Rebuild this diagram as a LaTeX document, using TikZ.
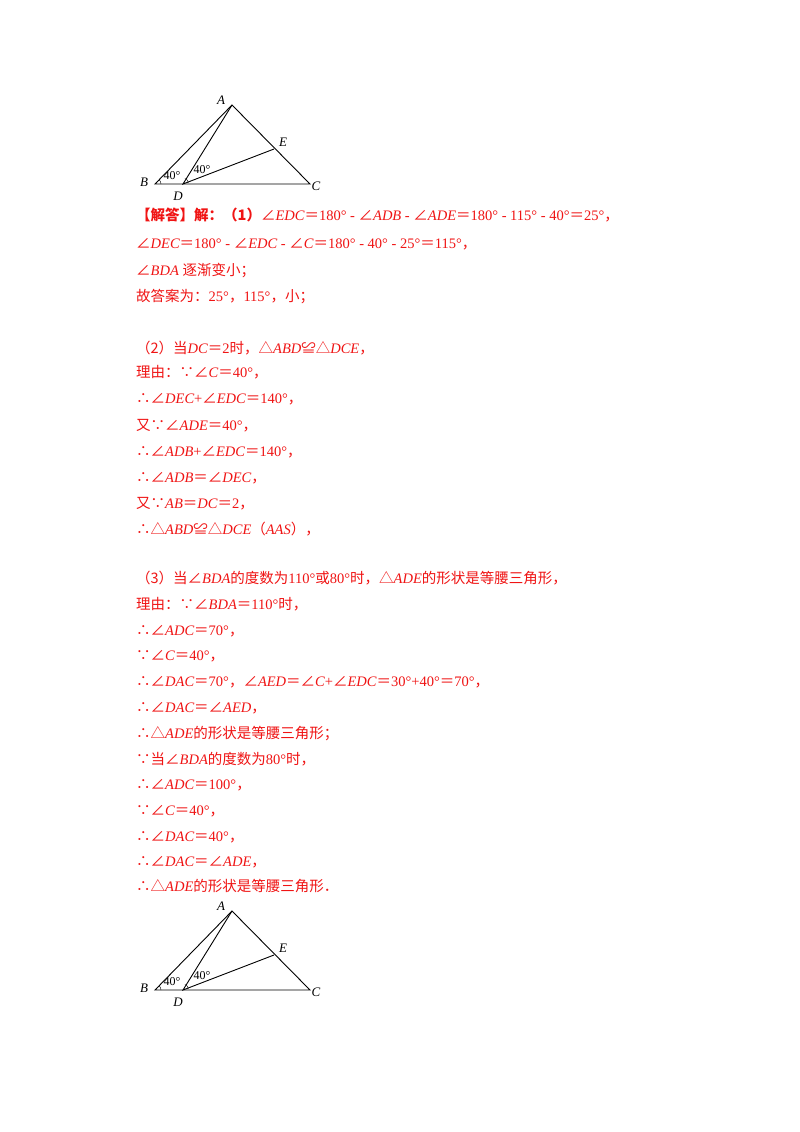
\documentclass[tikz,border=0pt]{standalone}
\usepackage{fontspec}
\setmainfont{Liberation Serif}
\newfontfamily\cjk{Noto Sans CJK SC}
\newcommand\I[1]{{\itshape #1}}
\newcommand\C[1]{{\cjk #1}}
\newcommand\ang{\C{∠}}
\newcommand\eqq{\C{＝}}
\newcommand\tri{\C{△}}
\newcommand\thr{\C{∴}}
\newcommand\bec{\C{∵}}
\newcommand\cng{\C{≌}}
\definecolor{ans}{RGB}{240,20,20}
\tikzset{ln/.style={anchor=base west,inner sep=0pt,text=ans,font=\fontsize{14.5}{16}\selectfont},
 lab/.style={font=\fontsize{13}{14}\selectfont\itshape,inner sep=0pt},
 seg/.style={line width=0.9pt}}
\begin{document}
\begin{tikzpicture}[x=1pt,y=-1pt]
\useasboundingbox (0,0) rectangle (800,1132);
\fill[white] (0,0) rectangle (800,1132);
\foreach \dy/\s in {0/t,806/b}{
\begin{scope}[yshift=-\dy pt]
\coordinate (A\s) at (232,105);
\coordinate (B\s) at (155,184);
\coordinate (D\s) at (183,184);
\coordinate (C\s) at (310,184);
\coordinate (E\s) at (274,149);
\draw[seg] (A\s)--(B\s)--(C\s)--cycle;
\draw[seg] (A\s)--(D\s)--(E\s);
\draw[thin] ([shift={(6pt,0pt)}]B\s) arc[start angle=0,end angle=45,radius=6pt];
\draw[thin] ([shift={(5.5pt,1.5pt)}]D\s) arc[start angle=15,end angle=68,radius=6pt];
\node[lab] (la\s) at (221,100) {A};
\node[lab] (lb\s) at (144,182) {B};
\node[lab] (lc\s) at (316,186) {C};
\node[lab] (ld\s) at (178,196) {D};
\node[lab] (le\s) at (283,142) {E};
\node[lab,font=\fontsize{12}{13}\selectfont] (g1\s) at (172,176) {40°};
\node[lab,font=\fontsize{12}{13}\selectfont] (g2\s) at (202,170) {40°};
\end{scope}}
\node[ln] (l1) at (136,220) {\C{\bfseries 【解答】解：（1）}\ang\I{EDC}\eqq180° - \ang\I{ADB} - \ang\I{ADE}\eqq180° - 115° - 40°\eqq25°\C{，}};
\node[ln] (l2) at (136,248) {\ang\I{DEC}\eqq180° - \ang\I{EDC} - \ang\I{C}\eqq180° - 40° - 25°\eqq115°\C{，}};
\node[ln] (l3) at (136,275) {\ang\I{BDA} \C{逐渐变小；}};
\node[ln] (l4) at (136,301) {\C{故答案为：}25°\C{，}115°\C{，小；}};
\node[ln] (l5) at (136,353) {\C{（2）当}\I{DC}\eqq2\C{时，}\tri\I{ABD}\cng\tri\I{DCE}\C{，}};
\node[ln] (l6) at (136,377) {\C{理由：}\bec\ang\I{C}\eqq40°\C{，}};
\node[ln] (l7) at (136,403) {\thr\ang\I{DEC}+\ang\I{EDC}\eqq140°\C{，}};
\node[ln] (l8) at (136,430) {\C{又}\bec\ang\I{ADE}\eqq40°\C{，}};
\node[ln] (l9) at (136,456) {\thr\ang\I{ADB}+\ang\I{EDC}\eqq140°\C{，}};
\node[ln] (l10) at (136,482) {\thr\ang\I{ADB}\eqq\ang\I{DEC}\C{，}};
\node[ln] (l11) at (136,508) {\C{又}\bec\I{AB}\eqq\I{DC}\eqq2\C{，}};
\node[ln] (l12) at (136,534) {\thr\tri\I{ABD}\cng\tri\I{DCE}\C{（}\I{AAS}\C{），}};
\node[ln] (l13) at (136,583) {\C{（3）当}\ang\I{BDA}\C{的度数为}110°\C{或}80°\C{时，}\tri\I{ADE}\C{的形状是等腰三角形，}};
\node[ln] (l14) at (136,609) {\C{理由：}\bec\ang\I{BDA}\eqq110°\C{时，}};
\node[ln] (l15) at (136,635) {\thr\ang\I{ADC}\eqq70°\C{，}};
\node[ln] (l16) at (136,660) {\bec\ang\I{C}\eqq40°\C{，}};
\node[ln] (l17) at (136,686) {\thr\ang\I{DAC}\eqq70°\C{，}\ang\I{AED}\eqq\ang\I{C}+\ang\I{EDC}\eqq30°+40°\eqq70°\C{，}};
\node[ln] (l18) at (136,712) {\thr\ang\I{DAC}\eqq\ang\I{AED}\C{，}};
\node[ln] (l19) at (136,738) {\thr\tri\I{ADE}\C{的形状是等腰三角形；}};
\node[ln] (l20) at (136,764) {\bec\C{当}\ang\I{BDA}\C{的度数为}80°\C{时，}};
\node[ln] (l21) at (136,789) {\thr\ang\I{ADC}\eqq100°\C{，}};
\node[ln] (l22) at (136,815) {\bec\ang\I{C}\eqq40°\C{，}};
\node[ln] (l23) at (136,841) {\thr\ang\I{DAC}\eqq40°\C{，}};
\node[ln] (l24) at (136,866) {\thr\ang\I{DAC}\eqq\ang\I{ADE}\C{，}};
\node[ln] (l25) at (136,891) {\thr\tri\I{ADE}\C{的形状是等腰三角形．}};
\end{tikzpicture}
\end{document}
